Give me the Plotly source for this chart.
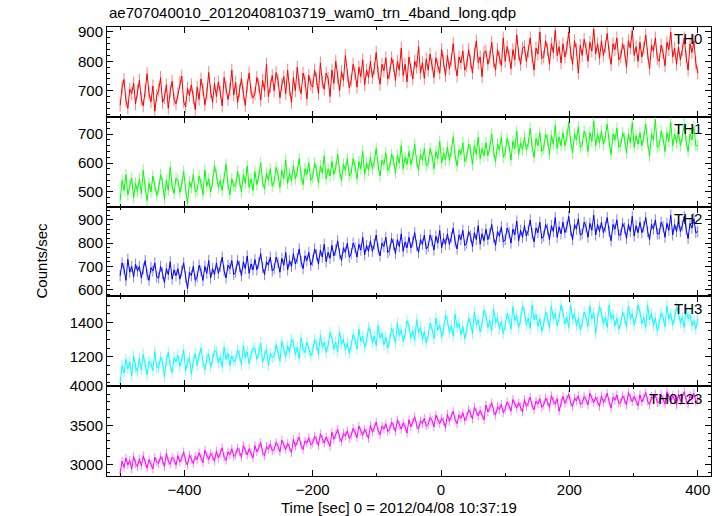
import numpy as np
import plotly.graph_objects as go

title_text = "ae707040010_20120408103719_wam0_trn_4band_long.qdp"
x_title = "Time [sec] 0 = 2012/04/08 10:37:19"
y_title = "Counts/sec"
band_names = ["TH0", "TH1", "TH2", "TH3", "TH0123"]

t_start, t_step = -500, 3

th0 = [650, 712, 738, 668, 640, 705, 690, 726, 655, 700,
       735, 672, 648, 700, 758, 690, 662, 716, 630, 684,
       702, 745, 660, 676, 720, 640, 698, 732, 670, 655,
       690, 728, 750, 662, 645, 708, 684, 720, 676, 636,
       712, 670, 740, 705, 652, 690, 762, 698, 660, 725,
       680, 730, 695, 648, 745, 712, 670, 704, 770, 685,
       728, 660, 700, 742, 690, 650, 718, 760, 695, 676,
       690, 745, 720, 668, 735, 700, 790, 680, 715, 752,
       700, 762, 735, 676, 720, 748, 690, 770, 705, 660,
       745, 700, 780, 718, 690, 760, 735, 672, 752, 722,
       712, 770, 740, 690, 795, 730, 705, 760, 742, 680,
       770, 725, 800, 745, 700, 765, 735, 820, 752, 710,
       735, 790, 760, 712, 780, 748, 805, 720, 770, 745,
       800, 745, 775, 830, 760, 722, 790, 768, 812, 740,
       760, 812, 785, 735, 800, 770, 845, 752, 790, 730,
       815, 770, 740, 800, 780, 850, 760, 795, 742, 808,
       770, 825, 790, 745, 812, 785, 760, 840, 800, 752,
       820, 775, 805, 860, 790, 750, 815, 795, 835, 770,
       785, 840, 800, 760, 825, 870, 795, 815, 748, 830,
       835, 790, 815, 865, 800, 770, 840, 812, 785, 880,
       800, 850, 820, 775, 840, 805, 890, 825, 790, 845,
       850, 800, 835, 880, 815, 770, 845, 825, 900, 810,
       815, 870, 840, 790, 860, 830, 905, 820, 850, 795,
       860, 815, 845, 900, 830, 790, 870, 840, 760, 855,
       820, 875, 845, 800, 865, 835, 910, 825, 860, 810,
       870, 820, 850, 895, 830, 790, 860, 840, 880, 805,
       815, 860, 835, 780, 870, 845, 905, 820, 850, 800,
       865, 815, 845, 890, 825, 775, 855, 835, 880, 810,
       800, 855, 830, 785, 865, 840, 900, 815, 845, 790,
       850, 805, 840, 880, 815, 770, 860, 830, 870, 795,
       760]

th1 = [470, 540, 505, 560, 490, 525, 548, 480, 530, 502,
       545, 495, 575, 515, 470, 530, 500, 555, 520, 488,
       510, 560, 530, 475, 540, 505, 585, 520, 495, 548,
       540, 498, 525, 570, 510, 460, 535, 515, 560, 500,
       505, 555, 530, 490, 575, 520, 545, 500, 535, 590,
       560, 515, 540, 505, 550, 595, 525, 490, 545, 520,
       520, 570, 540, 500, 560, 530, 590, 515, 545, 505,
       570, 525, 555, 600, 535, 510, 565, 540, 580, 520,
       535, 585, 560, 515, 575, 545, 610, 530, 565, 540,
       590, 545, 570, 615, 555, 525, 580, 560, 600, 540,
       550, 600, 575, 530, 590, 565, 625, 545, 580, 555,
       605, 560, 585, 630, 570, 540, 595, 575, 615, 555,
       565, 615, 590, 545, 605, 580, 640, 560, 600, 575,
       620, 580, 605, 650, 590, 555, 610, 595, 635, 575,
       585, 630, 610, 565, 625, 600, 660, 580, 620, 595,
       640, 595, 620, 665, 605, 575, 630, 610, 650, 590,
       600, 650, 625, 580, 640, 615, 675, 600, 635, 610,
       655, 610, 640, 690, 625, 590, 645, 630, 670, 605,
       620, 665, 645, 595, 660, 630, 690, 615, 650, 625,
       670, 625, 655, 700, 640, 605, 665, 645, 690, 620,
       635, 685, 660, 610, 675, 650, 710, 630, 670, 645,
       690, 645, 670, 720, 655, 620, 685, 660, 705, 640,
       650, 700, 680, 630, 695, 665, 730, 650, 690, 660,
       705, 660, 690, 740, 675, 635, 700, 680, 725, 655,
       660, 710, 690, 640, 705, 675, 745, 660, 700, 670,
       710, 665, 690, 735, 675, 630, 700, 680, 720, 655,
       660, 705, 685, 635, 700, 670, 740, 655, 695, 665,
       705, 660, 690, 735, 670, 625, 700, 680, 750, 655,
       660, 710, 685, 640, 705, 675, 740, 660, 700, 670,
       710, 660, 690, 735, 675, 640, 700, 680, 725, 660,
       660]

th2 = [660, 715, 690, 640, 730, 675, 700, 655, 710, 680,
       700, 650, 690, 725, 665, 640, 695, 680, 715, 655,
       650, 700, 670, 630, 690, 665, 720, 645, 685, 660,
       690, 645, 680, 715, 655, 605, 675, 660, 700, 640,
       655, 705, 680, 640, 700, 670, 725, 650, 690, 665,
       715, 670, 700, 740, 680, 650, 705, 690, 725, 665,
       675, 725, 700, 660, 720, 690, 745, 670, 710, 685,
       730, 685, 715, 755, 695, 665, 720, 705, 740, 680,
       690, 740, 715, 675, 735, 705, 760, 685, 725, 700,
       755, 710, 735, 775, 720, 690, 745, 725, 760, 705,
       725, 775, 750, 710, 770, 740, 795, 720, 760, 735,
       790, 745, 770, 810, 755, 725, 780, 760, 800, 740,
       755, 800, 780, 740, 795, 770, 825, 750, 790, 765,
       810, 765, 795, 835, 775, 745, 800, 785, 825, 760,
       770, 820, 795, 755, 815, 785, 840, 765, 805, 780,
       825, 780, 805, 845, 790, 760, 815, 795, 835, 775,
       785, 835, 810, 770, 830, 800, 855, 780, 820, 795,
       840, 795, 825, 865, 805, 775, 835, 815, 855, 790,
       800, 850, 830, 785, 845, 815, 875, 795, 840, 810,
       860, 815, 840, 880, 825, 790, 850, 830, 870, 805,
       815, 865, 845, 800, 860, 835, 895, 810, 855, 825,
       875, 830, 855, 900, 840, 805, 865, 845, 890, 820,
       830, 880, 860, 815, 875, 850, 910, 825, 870, 840,
       890, 845, 870, 915, 855, 815, 880, 860, 905, 835,
       840, 890, 870, 825, 885, 855, 920, 835, 880, 850,
       890, 845, 870, 910, 850, 810, 880, 860, 900, 835,
       835, 885, 865, 820, 880, 850, 915, 830, 875, 845,
       890, 845, 870, 910, 850, 815, 880, 860, 900, 840,
       840, 890, 870, 825, 885, 855, 920, 835, 880, 850,
       895, 850, 875, 915, 860, 820, 885, 865, 905, 845,
       850]

th3 = [1050, 1150, 1105, 1185, 1130, 1170, 1090, 1205, 1140, 1115,
       1190, 1125, 1215, 1150, 1095, 1175, 1160, 1120, 1230, 1140,
       1135, 1200, 1165, 1085, 1180, 1225, 1150, 1110, 1195, 1170,
       1210, 1145, 1180, 1240, 1120, 1165, 1195, 1100, 1175, 1220,
       1150, 1205, 1250, 1170, 1125, 1190, 1215, 1140, 1185, 1235,
       1230, 1165, 1200, 1140, 1255, 1185, 1220, 1150, 1205, 1175,
       1180, 1240, 1210, 1155, 1265, 1195, 1230, 1160, 1215, 1250,
       1250, 1185, 1225, 1280, 1170, 1210, 1245, 1150, 1220, 1195,
       1205, 1270, 1230, 1175, 1290, 1240, 1200, 1265, 1225, 1300,
       1280, 1215, 1255, 1190, 1310, 1245, 1225, 1285, 1240, 1205,
       1235, 1300, 1270, 1215, 1325, 1255, 1285, 1225, 1265, 1340,
       1310, 1245, 1285, 1230, 1345, 1275, 1300, 1240, 1280, 1220,
       1265, 1330, 1300, 1245, 1360, 1290, 1320, 1255, 1295, 1370,
       1345, 1280, 1320, 1265, 1380, 1310, 1335, 1270, 1315, 1250,
       1300, 1365, 1335, 1280, 1395, 1325, 1355, 1290, 1330, 1410,
       1380, 1310, 1350, 1295, 1415, 1340, 1370, 1300, 1345, 1280,
       1325, 1395, 1360, 1305, 1425, 1355, 1385, 1315, 1360, 1440,
       1410, 1340, 1380, 1320, 1445, 1370, 1395, 1330, 1375, 1305,
       1355, 1425, 1395, 1335, 1460, 1385, 1415, 1345, 1390, 1470,
       1440, 1370, 1410, 1350, 1475, 1400, 1425, 1360, 1405, 1335,
       1380, 1450, 1420, 1360, 1490, 1410, 1440, 1370, 1415, 1495,
       1455, 1385, 1425, 1365, 1500, 1415, 1445, 1375, 1420, 1350,
       1390, 1460, 1425, 1370, 1495, 1420, 1450, 1380, 1425, 1500,
       1460, 1390, 1430, 1370, 1500, 1420, 1450, 1380, 1425, 1355,
       1395, 1460, 1430, 1375, 1495, 1420, 1455, 1335, 1425, 1490,
       1455, 1390, 1430, 1370, 1500, 1420, 1445, 1380, 1425, 1360,
       1395, 1460, 1425, 1375, 1495, 1420, 1450, 1385, 1430, 1500,
       1460, 1390, 1430, 1370, 1500, 1415, 1450, 1380, 1425, 1350,
       1390, 1455, 1430, 1375, 1495, 1420, 1450, 1385, 1430, 1490,
       1455, 1395, 1430, 1370, 1480, 1420, 1445, 1380, 1410, 1360,
       1420]

th0123 = [2890, 3040, 2960, 3080, 2990, 3050, 2940, 3100, 3010, 2970,
          3070, 2980, 3110, 3020, 2950, 3060, 3000, 2940, 3090, 3030,
          3010, 3100, 3050, 2970, 3140, 3040, 3000, 3090, 3060, 2990,
          3110, 3030, 3080, 3160, 3040, 2990, 3120, 3070, 3010, 3100,
          3060, 3150, 3090, 3020, 3180, 3110, 3060, 3140, 3100, 3040,
          3170, 3080, 3140, 3210, 3090, 3050, 3160, 3120, 3200, 3100,
          3120, 3210, 3160, 3090, 3240, 3170, 3120, 3200, 3150, 3080,
          3240, 3160, 3210, 3280, 3150, 3110, 3230, 3190, 3260, 3170,
          3190, 3280, 3230, 3160, 3310, 3240, 3190, 3270, 3220, 3150,
          3320, 3230, 3290, 3350, 3240, 3190, 3300, 3270, 3340, 3250,
          3270, 3360, 3310, 3240, 3390, 3320, 3270, 3350, 3300, 3230,
          3410, 3320, 3380, 3450, 3340, 3290, 3400, 3360, 3430, 3330,
          3370, 3460, 3410, 3340, 3490, 3420, 3370, 3450, 3400, 3330,
          3500, 3410, 3470, 3540, 3430, 3380, 3490, 3450, 3520, 3420,
          3450, 3540, 3490, 3420, 3570, 3500, 3450, 3530, 3480, 3400,
          3570, 3480, 3540, 3610, 3500, 3450, 3560, 3520, 3590, 3490,
          3510, 3600, 3560, 3480, 3630, 3570, 3520, 3590, 3550, 3470,
          3640, 3550, 3610, 3680, 3570, 3520, 3630, 3590, 3660, 3560,
          3610, 3700, 3650, 3580, 3730, 3670, 3620, 3690, 3640, 3570,
          3760, 3670, 3720, 3790, 3680, 3630, 3740, 3700, 3770, 3660,
          3710, 3800, 3750, 3680, 3830, 3770, 3720, 3790, 3740, 3670,
          3830, 3740, 3790, 3860, 3750, 3700, 3810, 3770, 3840, 3730,
          3760, 3850, 3800, 3730, 3880, 3810, 3770, 3840, 3680, 3790,
          3870, 3780, 3830, 3900, 3790, 3740, 3850, 3810, 3880, 3770,
          3780, 3870, 3830, 3760, 3910, 3840, 3790, 3860, 3810, 3740,
          3880, 3790, 3840, 3910, 3800, 3720, 3860, 3820, 3890, 3780,
          3790, 3880, 3830, 3760, 3920, 3850, 3800, 3870, 3820, 3750,
          3890, 3800, 3850, 3920, 3810, 3760, 3870, 3830, 3900, 3790,
          3800, 3890, 3840, 3770, 3930, 3860, 3810, 3880, 3830, 3760,
          3900, 3810, 3860, 3930, 3820, 3770, 3880, 3840, 3910, 3800,
          3830]

series = [th0, th1, th2, th3, th0123]
errors = [22, 20, 24, 32, 55]
colors = ["#ff0000", "#00ff00", "#0000ff", "#00ffff", "#ff00ff"]
err_colors = ["rgba(255,0,0,0.5)", "rgba(0,255,0,0.5)", "rgba(0,0,255,0.5)",
              "rgba(0,255,255,0.5)", "rgba(255,0,255,0.5)"]
y_ranges = [[611, 917], [449, 760], [571, 957], [1030, 1550], [2850, 4000.5]]
y_dticks = [100, 100, 100, 200, 500]
y_minor = [20, 20, 20, 50, 100]
x_range = [-520.5, 420.7]
domains = [[0.8, 1.0], [0.6, 0.8], [0.4, 0.6], [0.2, 0.4], [0.0, 0.2]]

font = "Liberation Sans, Arial, Helvetica, sans-serif"
fig = go.Figure()
n = len(series)
for i, (vals, err, c, ec) in enumerate(zip(series, errors, colors, err_colors)):
    t = t_start + t_step * np.arange(len(vals))
    sfx = "" if i == 0 else str(i + 1)
    fig.add_trace(go.Scatter(
        x=t, y=vals, mode="lines", line=dict(color=c, width=1),
        error_y=dict(type="constant", value=err, color=ec, thickness=1, width=0),
        xaxis="x" + sfx, yaxis="y" + sfx, showlegend=False, hoverinfo="skip"))
    axis_common = dict(showline=True, linecolor="black", linewidth=1, mirror="allticks",
                       ticks="inside", tickcolor="black", ticklen=6, tickwidth=1,
                       showgrid=False, zeroline=False, automargin=False,
                       tickfont=dict(family=font, size=15, color="black"))
    xa = dict(axis_common, domain=[0, 1], range=x_range, anchor="y" + sfx,
              tick0=0, dtick=200, showticklabels=(i == n - 1),
              minor=dict(dtick=100, ticks="inside", ticklen=3, tickcolor="black"))
    if i > 0:
        xa["matches"] = "x"
    fig.layout["xaxis" + sfx] = xa
    fig.layout["yaxis" + sfx] = dict(
        axis_common, domain=domains[i], range=y_ranges[i], anchor="x" + sfx,
        tick0=0, dtick=y_dticks[i],
        minor=dict(dtick=y_minor[i], ticks="inside", ticklen=3, tickcolor="black"))
    fig.add_annotation(text=band_names[i], xref="x" + sfx + " domain", yref="y" + sfx + " domain",
                       x=0.988, y=0.985, xanchor="right", yanchor="top", showarrow=False,
                       font=dict(family=font, size=15, color="black"))

fig.add_annotation(text=title_text, xref="paper", yref="paper", x=0, y=1, yshift=4,
                   xanchor="left", yanchor="bottom", showarrow=False,
                   font=dict(family=font, size=15, color="black"))
fig.add_annotation(text=x_title, xref="paper", yref="paper", x=0.484, y=0, yshift=-21,
                   xanchor="center", yanchor="top", showarrow=False,
                   font=dict(family=font, size=15, color="black"))
fig.add_annotation(text=y_title, xref="paper", yref="paper", x=0, xshift=-66, y=0.48,
                   textangle=-90, xanchor="center", yanchor="middle", showarrow=False,
                   font=dict(family=font, size=15, color="black"))

fig.update_layout(width=723, height=516, margin=dict(l=107, r=12, t=27, b=40),
                  paper_bgcolor="white", plot_bgcolor="white")
fig.write_html("out.html", config={"displayModeBar": False},
               post_script="document.body.style.margin='0';document.body.style.padding='0';")
